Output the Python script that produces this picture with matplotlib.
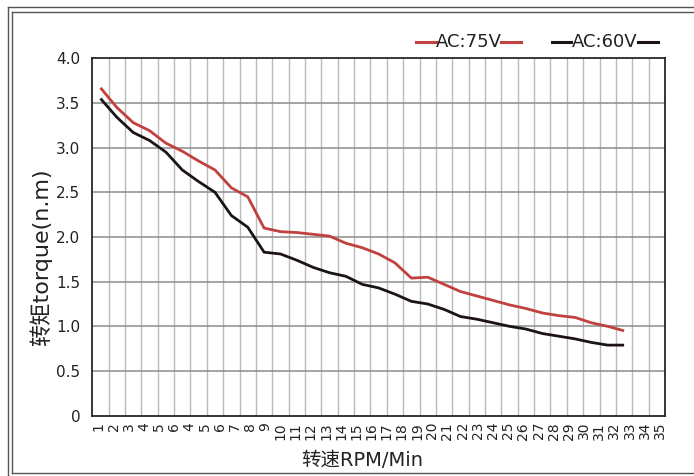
import matplotlib
matplotlib.use("Agg")
import matplotlib.pyplot as plt
import numpy as np
from matplotlib.lines import Line2D

plt.rcParams["font.family"] = ["DejaVu Sans", "Noto Sans CJK SC"]

# speed steps 1..33 (category columns)
SPEED = list(range(1, 34))
TORQUE_75V = [3.67, 3.45, 3.28, 3.19, 3.05, 2.96, 2.85, 2.75, 2.55, 2.45,
              2.10, 2.06, 2.05, 2.03, 2.01, 1.93, 1.88, 1.81, 1.71, 1.54,
              1.55, 1.47, 1.39, 1.34, 1.29, 1.24, 1.20, 1.15, 1.12, 1.10,
              1.04, 1.00, 0.95]
TORQUE_60V = [3.55, 3.34, 3.17, 3.08, 2.95, 2.75, 2.62, 2.50, 2.24, 2.11,
              1.83, 1.81, 1.74, 1.66, 1.60, 1.56, 1.47, 1.43, 1.36, 1.28,
              1.25, 1.19, 1.11, 1.08, 1.04, 1.00, 0.97, 0.92, 0.89, 0.86,
              0.82, 0.79, 0.79]
# tick labels as printed on the original (they don't line up with the columns)
X_TICK_LABELS = ["1", "2", "3", "4", "5", "6"] + [str(i) for i in range(4, 36)]
Y_TICKS = [0, 0.5, 1.0, 1.5, 2.0, 2.5, 3.0, 3.5, 4.0]
Y_TICK_LABELS = ["0", "0.5", "1.0", "1.5", "2.0", "2.5", "3.0", "3.5", "4.0"]
N_COLUMNS = 35

RED = "#c0413e"
BLACK = "#1c1414"
W, H = 694, 476


def fx(px):
    return px / W


def fy(py):
    return 1 - py / H


fig = plt.figure(figsize=(W / 100, H / 100), dpi=100)
ax = fig.add_axes([fx(92.3), fy(415.7), (665 - 92.3) / W, (415.7 - 58.3) / H])

ax.set_xlim(0.5, N_COLUMNS + 0.5)
ax.set_ylim(0, 4.0)

# grid
ax.vlines(np.arange(1.5, N_COLUMNS + 0.5, 1), 0, 4.0, color="#bababa", lw=1.0, zorder=1)
ax.hlines(Y_TICKS[1:-1], 0.5, N_COLUMNS + 0.5, color="#8c8c8c", lw=1.1, zorder=1)

ax.plot(SPEED, TORQUE_75V, color=RED, lw=2.0, solid_capstyle="butt", zorder=3)
ax.plot(SPEED, TORQUE_60V, color=BLACK, lw=2.0, solid_capstyle="butt", zorder=3)

for s in ax.spines.values():
    s.set_color("#2b2424")
    s.set_linewidth(1.3)

ax.set_xticks(np.linspace(0.87, 35.19, len(X_TICK_LABELS)))
ax.set_xticklabels(X_TICK_LABELS, rotation=90, fontsize=10, color="#222222")
ax.set_yticks(Y_TICKS)
ax.set_yticklabels(Y_TICK_LABELS, fontsize=11, color="#222222")
ax.tick_params(axis="x", length=0, pad=4.5)
ax.tick_params(axis="y", length=0, pad=8.5)

fig.text(fx(41), fy(257), "转矩torque(n.m)", rotation=90, ha="center", va="center",
         fontsize=16, color="#222222")
fig.text(fx(362.5), fy(461), "转速RPM/Min", ha="center", va="center",
         fontsize=14, color="#222222")

# legend drawn by hand: line - text - line
for (x0, x1, x2, x3, label, color) in [
    (416, 436, 501, 521, "AC:75V", RED),
    (552, 571, 638, 658, "AC:60V", BLACK),
]:
    yy = fy(42)
    fig.add_artist(Line2D([fx(x0), fx(x1)], [yy, yy], color=color, lw=2.2))
    fig.add_artist(Line2D([fx(x2), fx(x3)], [yy, yy], color=color, lw=2.2))
    fig.text(fx((x1 + x2) / 2), yy, label, ha="center", va="center",
             fontsize=13, color="#222222")

# double frame around the picture
frame = "#555555"
fig.add_artist(Line2D([fx(8.3), fx(8.3)], [fy(7.3), 0], color=frame, lw=1.0))
fig.add_artist(Line2D([fx(8.3), 1], [fy(7.3), fy(7.3)], color=frame, lw=1.0))
fig.add_artist(Line2D([fx(11.7), fx(11.7)], [fy(12.3), fy(472.7)], color=frame, lw=1.0))
fig.add_artist(Line2D([fx(11.7), 1], [fy(12.3), fy(12.3)], color=frame, lw=1.0))
fig.add_artist(Line2D([fx(11.7), 1], [fy(472.7), fy(472.7)], color=frame, lw=1.0))

fig.savefig("out.png", dpi=100)
